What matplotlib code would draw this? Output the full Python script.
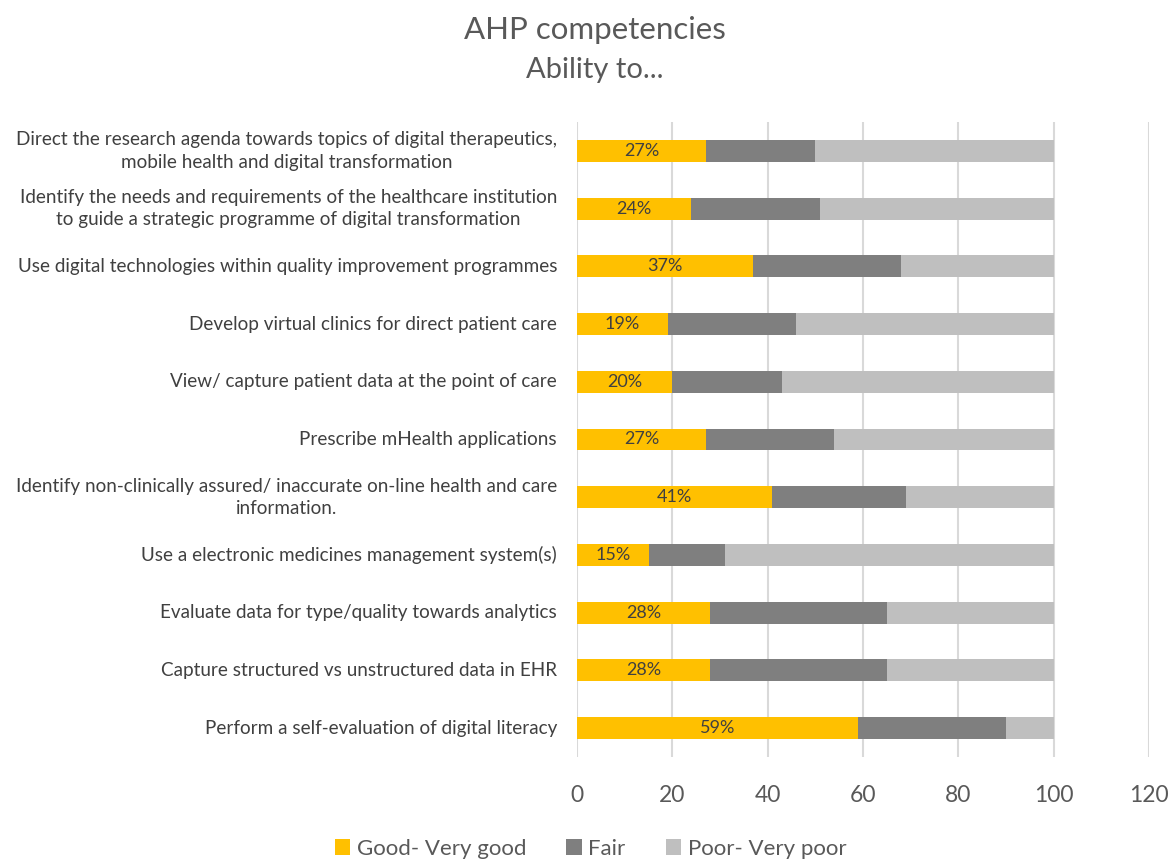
import matplotlib
matplotlib.use("Agg")
import matplotlib.pyplot as plt
import matplotlib.transforms as mtransforms
import numpy as np

plt.rcParams['font.family'] = ['Lato', 'DejaVu Sans']

categories = [
    "Direct the research agenda towards topics of digital therapeutics,\nmobile health and digital transformation",
    "Identify the needs and requirements of the healthcare institution\nto guide a strategic programme of digital transformation",
    "Use digital technologies within quality improvement programmes",
    "Develop virtual clinics for direct patient care",
    "View/ capture patient data at the point of care",
    "Prescribe mHealth applications",
    "Identify non-clinically assured/ inaccurate on-line health and care\ninformation.",
    "Use a electronic medicines management system(s)",
    "Evaluate data for type/quality towards analytics",
    "Capture structured vs unstructured data in EHR",
    "Perform a self-evaluation of digital literacy",
]
good = [27, 24, 37, 19, 20, 27, 41, 15, 28, 28, 59]
fair = [23, 27, 31, 27, 23, 27, 28, 16, 37, 37, 31]
poor = [50, 49, 32, 54, 57, 46, 31, 69, 35, 35, 10]
series_names = ["Good- Very good", "Fair", "Poor- Very poor"]
colors = ["#FFC000", "#7F7F7F", "#BFBFBF"]
xticks = [0, 20, 40, 60, 80, 100, 120]

fig = plt.figure(figsize=(11.74, 8.61), dpi=100)
ax = fig.add_axes([577/1174, 1-757/861, (1149-577)/1174, (757-122)/861])

y = np.arange(len(categories))
good_a = np.array(good)
fair_a = np.array(fair)
poor_a = np.array(poor)
h = 0.38
b1 = ax.barh(y, good_a, height=h, color=colors[0], label=series_names[0], zorder=3)
b2 = ax.barh(y, fair_a, left=good_a, height=h, color=colors[1], label=series_names[1], zorder=3)
b3 = ax.barh(y, poor_a, left=good_a + fair_a, height=h, color=colors[2], label=series_names[2], zorder=3)

for yi, g in zip(y, good):
    ax.text(g / 2, yi, f"{g}%", ha='center', va='center', fontsize=13, color='#404040', zorder=4)

ax.set_xlim(0, 120)
ax.set_ylim(len(categories) - 0.5, -0.5)
ax.set_xticks(xticks)
ax.set_xticklabels([str(t) for t in xticks], fontsize=16.5, color='#595959')
ax.set_yticks(y)
ax.set_yticklabels([])
ax.tick_params(axis='y', length=0)
ax.tick_params(axis='x', length=0, pad=20)

trans = mtransforms.blended_transform_factory(ax.transAxes, ax.transData)
for yi, cat in zip(y, categories):
    ax.text(-20/572, yi, cat, transform=trans, ha='right', va='center',
            multialignment='center', fontsize=13.6, color='#404040', linespacing=1.38)

ax.grid(axis='x', color='#D9D9D9', linewidth=1.5, zorder=0)
ax.grid(axis='y', visible=False)
for s in ax.spines.values():
    s.set_visible(False)

fig.text(0.507, 1-30/861, "AHP competencies", ha='center', va='center', fontsize=22.5, color='#595959')
fig.text(0.507, 1-70/861, "Ability to...", ha='center', va='center', fontsize=21, color='#595959')

leg = fig.legend(handles=[b1, b2, b3], labels=series_names, loc='center', bbox_to_anchor=(0.503, 1-849/861),
                 ncol=3, frameon=False, fontsize=16, handlelength=0.7, handleheight=0.7,
                 handletextpad=0.3, columnspacing=1.8)
for t in leg.get_texts():
    t.set_color('#595959')

fig.savefig("out.png", dpi=100)
